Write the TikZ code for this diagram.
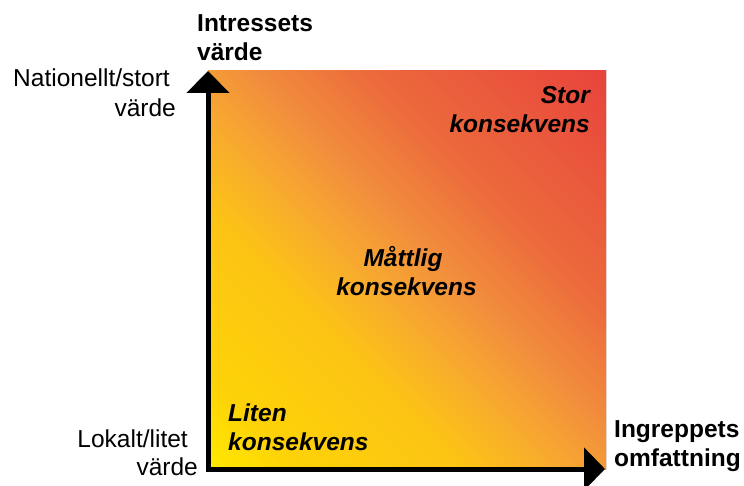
\documentclass[tikz,border=0pt]{standalone}
\usepackage{fontspec}
\setmainfont{Liberation Sans}
\usetikzlibrary{arrows.meta}
\definecolor{cYa}{HTML}{FFEA00}
\definecolor{cYb}{HTML}{FDD208}
\definecolor{cYc}{HTML}{FCC414}
\definecolor{cOa}{HTML}{F7A830}
\definecolor{cOb}{HTML}{F28E3C}
\definecolor{cRa}{HTML}{EC6A3C}
\definecolor{cRb}{HTML}{E8433C}
\pgfdeclarehorizontalshading{quadshade}{100bp}{color(0bp)=(cYa); color(25bp)=(cYa); color(31bp)=(cYb); color(41bp)=(cYc); color(47.5bp)=(cOa); color(52.5bp)=(cOb); color(60bp)=(cRa); color(75bp)=(cRb); color(100bp)=(cRb)}
\tikzset{
  lbl/.style={inner sep=0pt, font=\fontsize{24.5}{29}\selectfont},
  axlbl/.style={lbl, font=\fontsize{24.5}{29}\selectfont\bfseries},
  qlbl/.style={lbl, font=\fontsize{24.5}{29}\selectfont\bfseries\itshape},
  axis/.style={line width=5pt, {Triangle[width=42pt,length=22pt]}-{Triangle[width=42pt,length=21pt]}}
}
\begin{document}
\begin{tikzpicture}[x=1pt,y=-1pt]
\useasboundingbox (0,0) rectangle (744,486);
% gradient square
\begin{scope}
  \clip (208,71) rectangle (606,469);
  \fill[shading=quadshade, transform canvas={shift={(407pt,-270pt)}, rotate=45}] (-282pt,-282pt) rectangle (282pt,282pt);
\end{scope}
% axes
\coordinate (O) at (208,469);
\coordinate (Ytip) at (208,71);
\coordinate (Xtip) at (605,469);
\draw[axis] (Ytip) -- (O) -- (Xtip);
% axis titles
\node[axlbl, anchor=base west] (yt1) at (197,32) {Intressets};
\node[axlbl, anchor=base west] (yt2) at (197,61) {värde};
\node[axlbl, anchor=base west] (xt1) at (614,437) {Ingreppets};
\node[axlbl, anchor=base west] (xt2) at (614,466) {omfattning};
% axis values
\node[lbl, anchor=base east] (hi1) at (170,87) {Nationellt/stort};
\node[lbl, anchor=base east] (hi2) at (176,117) {värde};
\node[lbl, anchor=base east] (lo1) at (188,447) {Lokalt/litet};
\node[lbl, anchor=base east] (lo2) at (198,475) {värde};
% quadrant labels
\node[qlbl, anchor=base east] (s1) at (590,104) {Stor};
\node[qlbl, anchor=base east] (s2) at (590,133) {konsekvens};
\node[qlbl, anchor=base] (m1) at (403,267) {Måttlig};
\node[qlbl, anchor=base] (m2) at (406.5,295) {konsekvens};
\node[qlbl, anchor=base west] (l1) at (228,421) {Liten};
\node[qlbl, anchor=base west] (l2) at (228,450) {konsekvens};
\end{tikzpicture}
\end{document}
